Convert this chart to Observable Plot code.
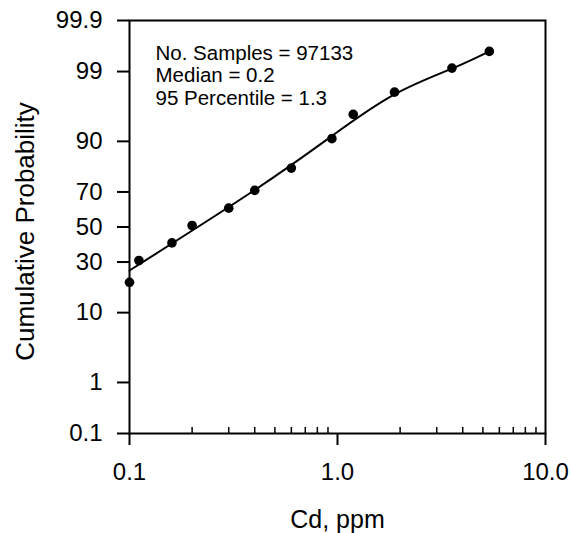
<!DOCTYPE html>
<html><head><meta charset="utf-8">
<script src="https://cdn.jsdelivr.net/npm/d3@7"></script>
<script src="https://cdn.jsdelivr.net/npm/@observablehq/plot@0.6"></script>
<style>body{margin:0;background:#fff} #chart svg{font-family:"Liberation Sans",Arial,sans-serif}</style>
</head><body><div id="chart"></div>
<script>
// observed points
const cd   = [0.1, 0.111, 0.160, 0.20, 0.30, 0.40, 0.60, 0.94, 1.19, 1.88, 3.55, 5.37];
const prob = [20.4, 30.8, 40.6, 50.9, 61.1, 70.8, 81.1, 90.7, 95.4, 97.82, 99.13, 99.57];
// fitted curve
const fitCd   = [0.1, 0.4, 0.94, 1.88, 3.55, 5.37];
const fitProb = [25.75, 71.0, 91.35, 97.64, 99.11, 99.57];
// axes
const yTicks = [0.1, 1, 10, 30, 50, 70, 90, 99, 99.9];
const yTickLabels = ["0.1", "1", "10", "30", "50", "70", "90", "99", "99.9"];
const xTicks = [0.1, 1, 10];
const xTickLabels = ["0.1", "1.0", "10.0"];
const xMinor = [0.2, 0.3, 0.4, 0.5, 0.6, 0.7, 0.8, 0.9, 2, 3, 4, 5, 6, 7, 8, 9];
const annotation = ["No. Samples = 97133", "Median = 0.2", "95 Percentile = 1.3"];
const xLabel = "Cd, ppm";
const yLabel = "Cumulative Probability";

// inverse normal CDF (Acklam)
function probit(p) {
  const a = [-3.969683028665376e+01, 2.209460984245205e+02, -2.759285104469687e+02, 1.383577518672690e+02, -3.066479806614716e+01, 2.506628277459239e+00];
  const b = [-5.447609879822406e+01, 1.615858368580409e+02, -1.556989798598866e+02, 6.680131188771972e+01, -1.328068155288572e+01];
  const c = [-7.784894002430293e-03, -3.223964580411365e-01, -2.400758277161838e+00, -2.549732539343734e+00, 4.374664141464968e+00, 2.938163982698783e+00];
  const d = [7.784695709041462e-03, 3.224671290700398e-01, 2.445134137142996e+00, 3.754408661907416e+00];
  const pl = 0.02425, ph = 1 - pl;
  let q, r;
  if (p < pl) { q = Math.sqrt(-2 * Math.log(p)); return (((((c[0]*q+c[1])*q+c[2])*q+c[3])*q+c[4])*q+c[5]) / ((((d[0]*q+d[1])*q+d[2])*q+d[3])*q+1); }
  if (p <= ph) { q = p - 0.5; r = q*q; return (((((a[0]*r+a[1])*r+a[2])*r+a[3])*r+a[4])*r+a[5])*q / (((((b[0]*r+b[1])*r+b[2])*r+b[3])*r+b[4])*r+1); }
  q = Math.sqrt(-2 * Math.log(1 - p));
  return -(((((c[0]*q+c[1])*q+c[2])*q+c[3])*q+c[4])*q+c[5]) / ((((d[0]*q+d[1])*q+d[2])*q+d[3])*q+1);
}
const z = pct => probit(pct / 100);

const points = cd.map((x, i) => ({x, y: z(prob[i])}));
const fit = fitCd.map((x, i) => ({x, y: z(fitProb[i])}));
const yTickZ = yTicks.map(z);
const yFmt = v => yTickLabels[yTickZ.findIndex(t => Math.abs(t - v) < 1e-9)];
const xFmt = v => xTickLabels[xTicks.findIndex(t => Math.abs(t - v) < 1e-9)];

const chart = Plot.plot({
  width: 572, height: 533,
  marginLeft: 129, marginRight: 27, marginTop: 20, marginBottom: 100,
  style: {fontFamily: '"Liberation Sans", Arial, sans-serif', color: "#000", background: "#fff"},
  x: {type: "log", domain: [0.1, 10]},
  y: {domain: [z(0.1), z(99.9)]},
  marks: [
    Plot.ruleX(xMinor, {stroke: "#000", strokeWidth: 1.5, insetTop: 407}),
    Plot.axisY({ticks: yTickZ, tickFormat: yFmt, tickSize: 12, tickPadding: 15, fontSize: 24, strokeWidth: 2, label: null}),
    Plot.axisX({ticks: xTicks, tickFormat: xFmt, tickSize: 12, tickPadding: 17, fontSize: 24, strokeWidth: 2, label: null}),
    Plot.frame({stroke: "#000", strokeWidth: 2}),
    Plot.line(fit, {x: "x", y: "y", curve: "natural", stroke: "#000", strokeWidth: 2}),
    Plot.dot(points, {x: "x", y: "y", r: 4.8, fill: "#000", stroke: "none"}),
    Plot.text([annotation.join("\n")], {frameAnchor: "top-left", textAnchor: "start", lineAnchor: "top", dx: 26, dy: 23, fontSize: 20.5, lineHeight: 1.1, fill: "#000"}),
    Plot.text([xLabel], {frameAnchor: "bottom", lineAnchor: "bottom", dy: 94, fontSize: 25, fill: "#000"}),
    Plot.text([yLabel], {frameAnchor: "left", textAnchor: "middle", rotate: -90, dx: -104, dy: 4.5, fontSize: 26, fill: "#000"})
  ]
});
document.getElementById("chart").appendChild(chart);
</script>
</body></html>
